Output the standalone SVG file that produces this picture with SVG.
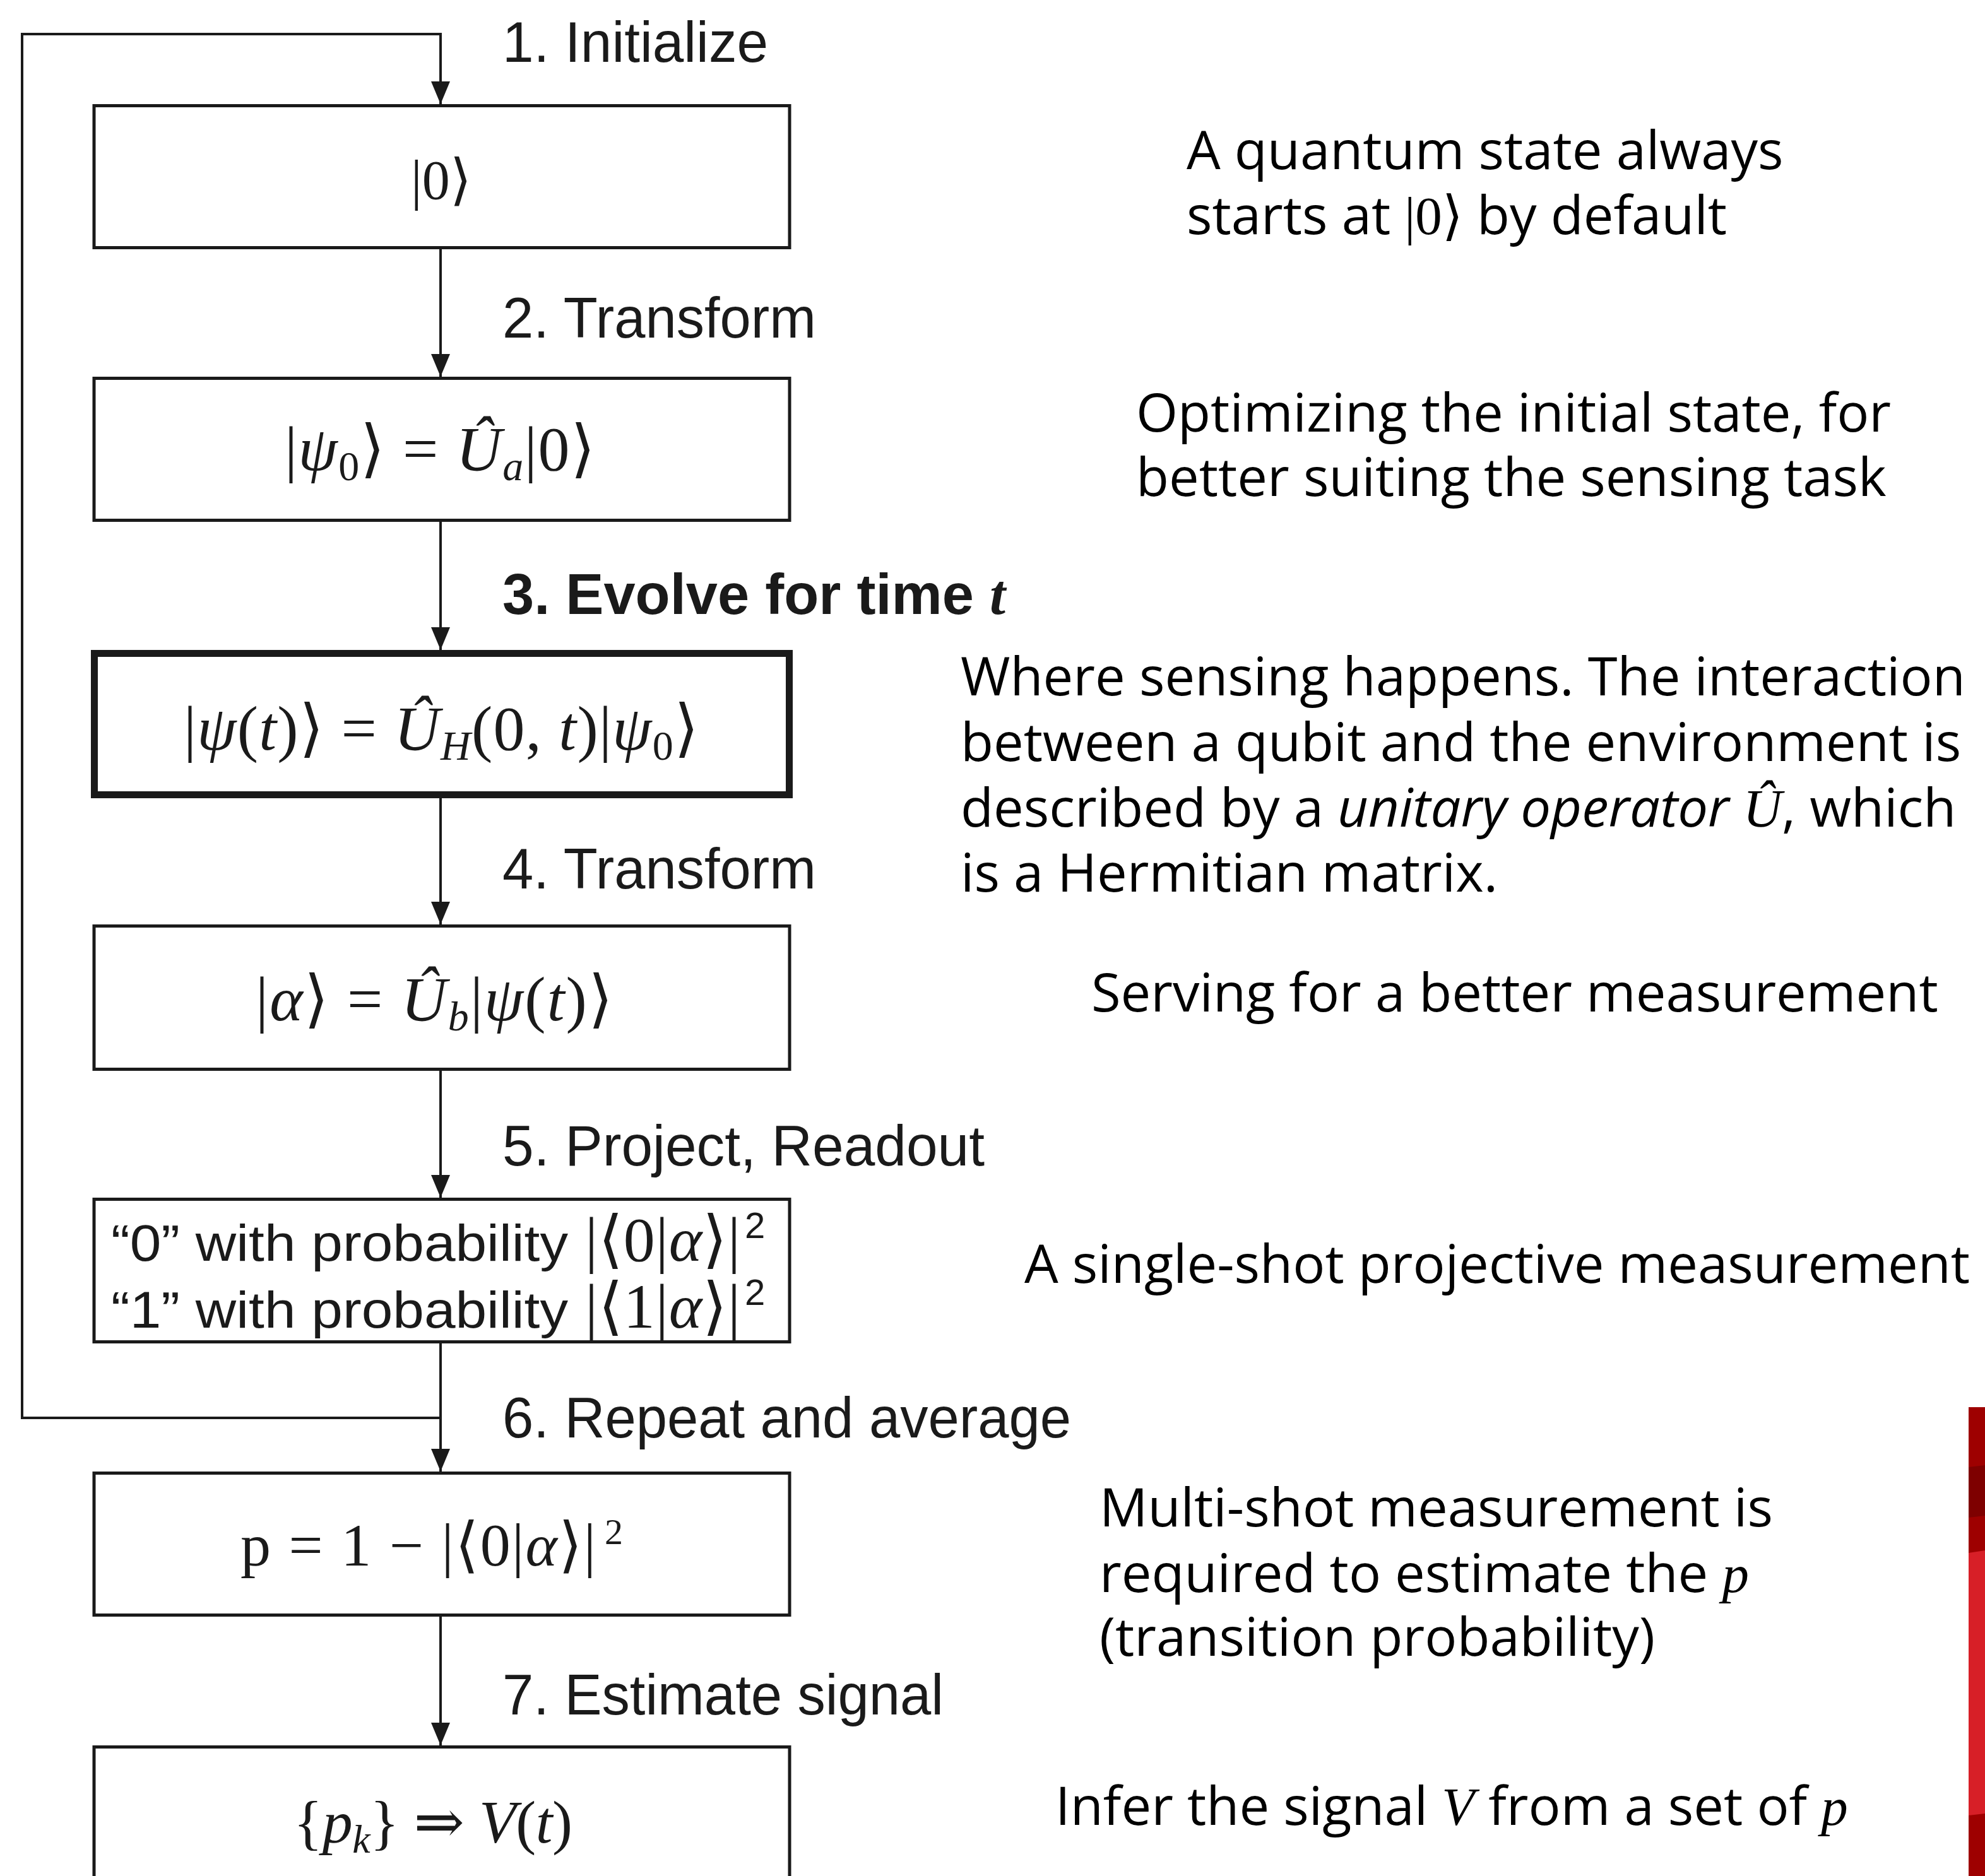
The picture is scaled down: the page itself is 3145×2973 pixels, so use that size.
<svg xmlns="http://www.w3.org/2000/svg" width="3145" height="2973" viewBox="0 0 3145 2973">
<style>
.box{fill:#fff;stroke:#1a1a1a;stroke-width:5}
.thick{fill:#fff;stroke:#1a1a1a;stroke-width:11}
.conn{fill:none;stroke:#1a1a1a;stroke-width:4}
.lbl{font-family:"Liberation Sans",Arial,sans-serif;font-size:90px;fill:#1a1a1a}
.m{font-family:"Liberation Serif","DejaVu Serif",serif;fill:#1a1a1a}
.c{text-anchor:middle}
.i{font-style:italic}
.s{font-family:"Liberation Sans",Arial,sans-serif;fill:#1a1a1a}
.note{font-family:"Open Sans","Noto Sans",sans-serif;font-size:85px;fill:#000}
.mi{font-family:"Liberation Serif","DejaVu Serif",serif;font-style:italic}
.mu{font-family:"Liberation Serif","DejaVu Serif",serif}
</style>
<defs>
<marker id="ah" viewBox="0 0 36 30" markerWidth="36" markerHeight="30" refX="36" refY="15" orient="auto" markerUnits="userSpaceOnUse">
<path d="M0,0 L36,15 L0,30 z" fill="#1a1a1a"/>
</marker>
</defs>

<g id="connectors">
<path class="conn" d="M698,2247 H35 V54 H698 V165" marker-end="url(#ah)"/>
<path class="conn" d="M698,395 V597" marker-end="url(#ah)"/>
<path class="conn" d="M698,827 V1030" marker-end="url(#ah)"/>
<path class="conn" d="M698,1265 V1465" marker-end="url(#ah)"/>
<path class="conn" d="M698,1697 V1898" marker-end="url(#ah)"/>
<path class="conn" d="M698,2129 V2332" marker-end="url(#ah)"/>
<path class="conn" d="M698,2562 V2766" marker-end="url(#ah)"/>
</g>

<g id="labels">
<text class="lbl" x="796" y="98" textLength="421" lengthAdjust="spacingAndGlyphs">1. Initialize</text>
<text class="lbl" x="796" y="535" textLength="497" lengthAdjust="spacingAndGlyphs">2. Transform</text>
<text class="lbl" x="796" y="973" font-weight="bold" textLength="797" lengthAdjust="spacingAndGlyphs">3. Evolve for time <tspan font-family="Liberation Serif,serif" font-style="italic">t</tspan></text>
<text class="lbl" x="796" y="1408" textLength="497" lengthAdjust="spacingAndGlyphs">4. Transform</text>
<text class="lbl" x="796" y="1847" textLength="764" lengthAdjust="spacingAndGlyphs">5. Project, Readout</text>
<text class="lbl" x="796" y="2278" textLength="901" lengthAdjust="spacingAndGlyphs">6. Repeat and average</text>
<text class="lbl" x="796" y="2717" textLength="699" lengthAdjust="spacingAndGlyphs">7. Estimate signal</text>
</g>

<g id="node1">
<rect class="box" x="149" y="167.5" width="1102" height="225"/>
<text class="m c" x="699" y="315" font-size="88">|0⟩</text>
</g>

<g id="node2">
<rect class="box" x="149" y="599.5" width="1102" height="225"/>
<text class="m" x="451" y="745" font-size="100" textLength="492" lengthAdjust="spacing">|<tspan class="i">ψ</tspan><tspan dy="16" font-size="66">0</tspan><tspan dy="-16">⟩ = </tspan><tspan class="i">Û</tspan><tspan class="i" dy="16" font-size="66">a</tspan><tspan dy="-16">|0⟩</tspan></text>
</g>

<g id="node3">
<rect class="thick" x="149.5" y="1035.5" width="1101" height="224"/>
<text class="m" x="291" y="1188" font-size="100" textLength="816" lengthAdjust="spacing">|<tspan class="i">ψ</tspan>(<tspan class="i">t</tspan>)⟩ = <tspan class="i">Û</tspan><tspan class="i" dy="16" font-size="66">H</tspan><tspan dy="-16">(0, </tspan><tspan class="i">t</tspan>)|<tspan class="i">ψ</tspan><tspan dy="16" font-size="66">0</tspan><tspan dy="-16">⟩</tspan></text>
</g>

<g id="node4">
<rect class="box" x="149" y="1467.5" width="1102" height="227"/>
<text class="m" x="405" y="1617" font-size="100" textLength="566" lengthAdjust="spacing">|<tspan class="i">α</tspan>⟩ = <tspan class="i">Û</tspan><tspan class="i" dy="16" font-size="66">b</tspan><tspan dy="-16">|</tspan><tspan class="i">ψ</tspan>(<tspan class="i">t</tspan>)⟩</text>
</g>

<g id="node5">
<rect class="box" x="149" y="1900.5" width="1102" height="226"/>
<text class="s" x="176" y="1998" font-size="82" textLength="724" lengthAdjust="spacingAndGlyphs">“0” with probability</text>
<text class="m" x="927" y="1998" font-size="100" textLength="246" lengthAdjust="spacing">|⟨0|<tspan class="i">α</tspan>⟩|</text>
<text class="s" x="1180" y="1962" font-size="58">2</text>
<text class="s" x="176" y="2104" font-size="82" textLength="724" lengthAdjust="spacingAndGlyphs">“1” with probability</text>
<text class="m" x="927" y="2104" font-size="100" textLength="246" lengthAdjust="spacing">|⟨1|<tspan class="i">α</tspan>⟩|</text>
<text class="s" x="1180" y="2068" font-size="58">2</text>
</g>

<g id="node6">
<rect class="box" x="149" y="2334.5" width="1102" height="225"/>
<text class="m" x="381" y="2481" font-size="96" textLength="563" lengthAdjust="spacing">p = 1 − |⟨0|<tspan class="i">α</tspan>⟩|</text>
<text class="m" x="958" y="2447" font-size="58">2</text>
</g>

<g id="node7">
<rect class="box" x="149" y="2768.5" width="1102" height="300"/>
<text class="m" x="465" y="2920" font-size="96" textLength="442" lengthAdjust="spacing">{<tspan class="i">p</tspan><tspan class="i" dy="16" font-size="64">k</tspan><tspan dy="-16">} ⇒ </tspan><tspan class="i">V</tspan>(<tspan class="i">t</tspan>)</text>
</g>

<g id="notes">
<text class="note" x="1880" y="268">A quantum state always</text>
<text class="note" x="1880" y="371">starts at <tspan class="mu">|0⟩</tspan> by default</text>
<text class="note" x="1800" y="684">Optimizing the initial state, for</text>
<text class="note" x="1800" y="786">better suiting the sensing task</text>
<text class="note" x="1522" y="1102">Where sensing happens. The interaction</text>
<text class="note" x="1522" y="1206">between a qubit and the environment is</text>
<text class="note" x="1522" y="1310">described by a <tspan font-style="italic">unitary operator</tspan> <tspan class="mi">Û</tspan>, which</text>
<text class="note" x="1522" y="1413">is a Hermitian matrix.</text>
<text class="note" x="1729" y="1603">Serving for a better measurement</text>
<text class="note" x="1623" y="2033">A single-shot projective measurement</text>
<text class="note" x="1742" y="2419">Multi-shot measurement is</text>
<text class="note" x="1742" y="2523">required to estimate the <tspan class="mi">p</tspan></text>
<text class="note" x="1742" y="2624">(transition probability)</text>
<text class="note" x="1672" y="2892">Infer the signal <tspan class="mi">V</tspan> from a set of <tspan class="mi">p</tspan></text>
</g>

<g id="redbar">
<rect x="3119" y="2230" width="26" height="743" fill="#9e0000"/>
<polygon points="3119,2325 3145,2322 3145,2402 3119,2405" fill="#7e0000"/>
<polygon points="3119,2461 3145,2457 3145,2874 3119,2877" fill="#d71f27"/>
</g>
</svg>
